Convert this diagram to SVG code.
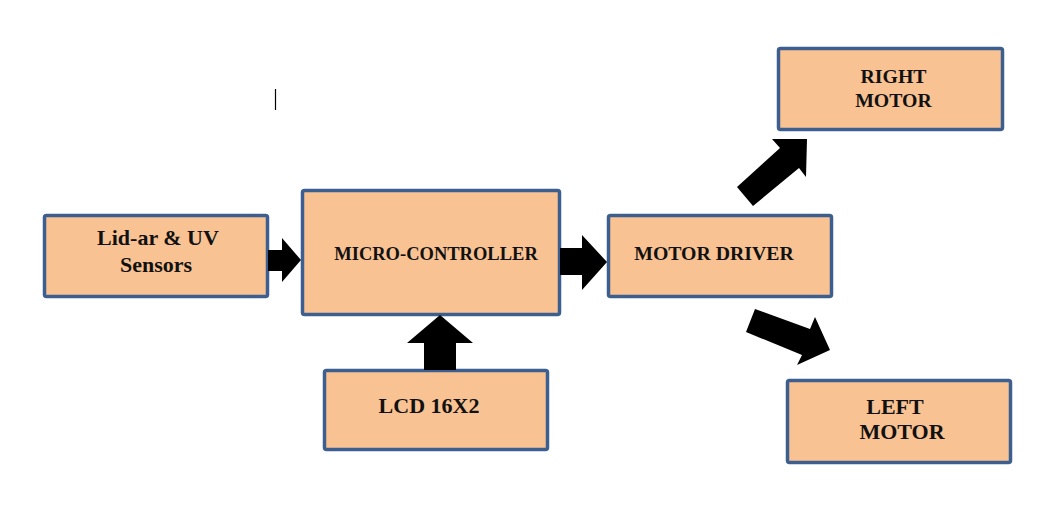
<svg xmlns="http://www.w3.org/2000/svg" width="1055" height="508" viewBox="0 0 1055 508">
<style>
.box{fill:#F9C293;stroke:#3D5F8F;stroke-width:3.5}
.t{font-family:"Liberation Serif","Times New Roman",serif;font-weight:bold;fill:#111;text-anchor:middle}
.arr{fill:#000}
</style>
<rect width="1055" height="508" fill="#fff"/>
<line x1="275.5" y1="89" x2="275.5" y2="110" stroke="#000" stroke-width="1.2"/>
<g id="lidar">
<rect class="box" x="44.5" y="215.5" width="223" height="81" rx="2"/>
<text class="t" x="158" y="245" font-size="22">Lid-ar &amp; UV</text>
<text class="t" x="156" y="272" font-size="22">Sensors</text>
</g>
<g id="microcontroller">
<rect class="box" x="302.5" y="190.5" width="257" height="124" rx="2"/>
<text class="t" x="436" y="260" font-size="18.5">MICRO-CONTROLLER</text>
</g>
<g id="motordriver">
<rect class="box" x="608.5" y="215.5" width="223" height="81" rx="2"/>
<text class="t" x="714" y="260" font-size="19.8">MOTOR DRIVER</text>
</g>
<g id="rightmotor">
<rect class="box" x="778.5" y="48.5" width="224" height="81" rx="2"/>
<text class="t" x="893.5" y="83" font-size="19.8">RIGHT</text>
<text class="t" x="893.5" y="107" font-size="19.8">MOTOR</text>
</g>
<g id="leftmotor">
<rect class="box" x="787.5" y="380.5" width="223" height="82" rx="2"/>
<text class="t" x="895" y="414" font-size="22">LEFT</text>
<text class="t" x="902" y="439" font-size="22">MOTOR</text>
</g>
<g id="lcd">
<rect class="box" x="324.5" y="370.5" width="223" height="79" rx="2"/>
<text class="t" x="429" y="413" font-size="22">LCD 16X2</text>
</g>
<g id="connectors">
<polygon class="arr" points="268,250 282,250 282,238 301,260 282,282 282,271 268,271"/>
<polygon class="arr" points="560,248 582,248 582,235 607,262 582,290 582,275 560,275"/>
<polygon class="arr" points="424,370 424,343 407,343 440,315 473,343 456,343 456,370"/>
<polygon class="arr" points="737,187 780,148 772,139 807,139 806,177 799,168 753,206"/>
<polygon class="arr" points="755,309 810,329 815,317 830,350 797,365 802,355 746,332"/>
</g>
</svg>
